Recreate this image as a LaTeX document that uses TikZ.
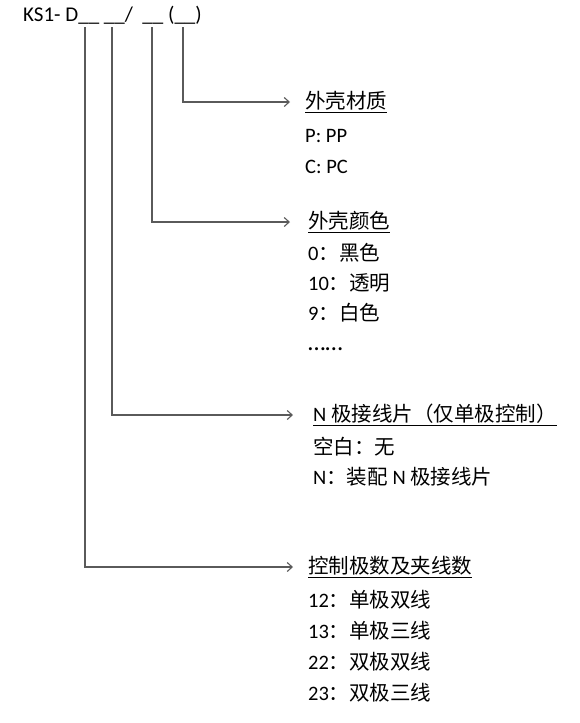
\documentclass[tikz,border=0pt]{standalone}
\usepackage{fontspec}
\setmainfont{Carlito}
\newfontfamily\cjk{Noto Sans CJK SC}
\usetikzlibrary{arrows.meta, positioning}
\definecolor{LeadGray}{HTML}{5A5A5A}

\begin{document}
\begin{tikzpicture}[x=1pt, y=-1pt,
  hdr/.style={anchor=base west, inner sep=0pt, font=\fontsize{21}{24}\selectfont},
  grp/.style={anchor=west, inner sep=0pt, font=\fontsize{20.5}{24}\selectfont},
  opt/.style={anchor=base west, inner sep=0pt, font=\fontsize{20.5}{24}\selectfont},
  lead/.style={LeadGray, line width=1.1pt, -{Straight Barb[length=5pt, width=9pt]}, shorten >=15pt},
]
  \useasboundingbox (0,0) rectangle (580,723);
  \node[hdr] (code) at (23,21) {KS1- D\_\_ \_\_/\ \ \_\_ (\_\_)};
  % slots under the code
  \coordinate (s1) at (85,27);
  \coordinate (s2) at (112,27);
  \coordinate (s3) at (152,27);
  \coordinate (s4) at (183,27);

  % shell material
  \node[grp] (mat) at (305,102) {\underline{{\cjk 外壳材质}}};
  \foreach \t [count=\k] in {P: PP, C: PC}
    \node[opt] (mat\k) at (305,111+31*\k) {\t};

  % shell colour
  \node[grp] (col) at (308,222) {\underline{{\cjk 外壳颜色}}};
  \foreach \t [count=\k] in {0{\cjk ：黑色}, 10{\cjk ：透明}, 9{\cjk ：白色}, {\fontsize{25}{24}\selectfont ……}}
    \node[opt] (col\k) at (308,230+30*\k) {\t};

  % N terminal
  \node[grp] (nt) at (313,415) {\underline{N {\cjk 极接线片（仅单极控制）}}};
  \foreach \t [count=\k] in {{\cjk 空白：无}, N{\cjk ：装配} N {\cjk 极接线片}}
    \node[opt] (nt\k) at (313,424+30*\k) {\t};

  % poles and wires
  \node[grp] (pol) at (308,567) {\underline{{\cjk 控制极数及夹线数}}};
  \foreach \t [count=\k] in {12{\cjk ：单极双线}, 13{\cjk ：单极三线}, 22{\cjk ：双极双线}, 23{\cjk ：双极三线}}
    \node[opt] (pol\k) at (308,576+31*\k) {\t};

  \draw[lead] (s4) |- (mat.west);
  \draw[lead, shorten >=18pt] (s3) |- (col.west);
  \draw[lead, shorten >=20pt] (s2) |- (nt.west);
  \draw[lead] (s1) |- (pol.west);
\end{tikzpicture}
\end{document}
